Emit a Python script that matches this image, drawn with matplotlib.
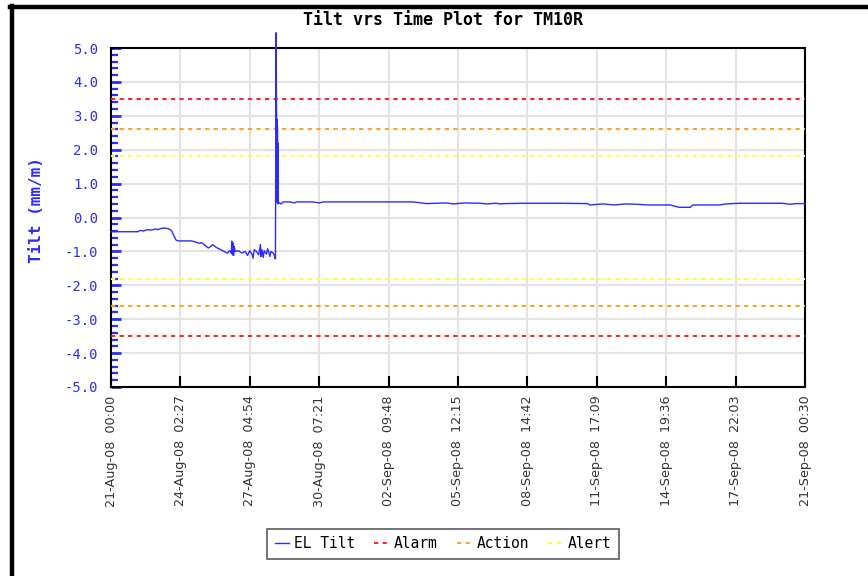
import matplotlib
matplotlib.use("Agg")
import matplotlib.pyplot as plt
from matplotlib.lines import Line2D
from datetime import datetime, timedelta

# ---------------- data ----------------
title = "Tilt vrs Time Plot for TM10R"
y_label = "Tilt (mm/m)"
start_time = datetime(2008, 8, 21, 0, 0)

x_tick_labels = ["21-Aug-08  00:00", "24-Aug-08  02:27", "27-Aug-08  04:54",
                 "30-Aug-08  07:21", "02-Sep-08  09:48", "05-Sep-08  12:15",
                 "08-Sep-08  14:42", "11-Sep-08  17:09", "14-Sep-08  19:36",
                 "17-Sep-08  22:03", "21-Sep-08  00:30"]
y_ticks = [-5.0, -4.0, -3.0, -2.0, -1.0, 0.0, 1.0, 2.0, 3.0, 4.0, 5.0]

# elapsed days since start, and EL tilt readings (mm/m)
tilt_days = [0.00, 1.20, 1.30, 1.45, 1.60, 1.80, 2.00, 2.10, 2.25, 2.40, 2.55, 2.70,
             2.80, 2.90, 3.00, 3.60, 3.75, 3.95, 4.05, 4.20, 4.35, 4.45, 4.55, 4.70,
             4.90, 5.05, 5.20, 5.30, 5.38, 5.40, 5.43, 5.45, 5.48, 5.50, 5.55, 5.70,
             5.85, 6.00, 6.10, 6.20, 6.30, 6.35, 6.40, 6.50, 6.60, 6.68, 6.70, 6.75,
             6.80, 6.85, 6.95, 7.00, 7.05, 7.10, 7.15, 7.25, 7.30,
             7.35, 7.38, 7.40, 7.41, 7.42, 7.43, 7.44, 7.45, 7.46, 7.47, 7.50, 7.60,
             7.70, 8.00,
             8.20, 8.30, 9.00, 9.30, 9.50, 10.00, 12.90, 13.50, 14.10, 14.50, 15.00,
             15.30, 15.80, 16.50, 16.80, 17.20, 17.40, 17.60, 18.40, 19.00, 20.00,
             21.30, 21.40, 21.60, 22.00, 22.50, 23.00, 23.50, 24.00, 25.00, 25.40,
             25.90, 26.00, 27.20, 27.50, 28.10, 29.00, 30.00, 30.35, 30.60, 31.02]
tilt_values = [-0.42, -0.42, -0.38, -0.40, -0.36, -0.37, -0.34, -0.36, -0.32, -0.31, -0.33, -0.38,
               -0.52, -0.66, -0.69, -0.69, -0.72, -0.76, -0.74, -0.82, -0.90, -0.86, -0.80, -0.88,
               -0.95, -1.00, -1.05, -0.98, -1.05, -0.70, -1.10, -0.75, -1.12, -0.85, -1.00, -0.98,
               -1.05, -1.00, -1.12, -0.98, -1.08, -1.20, -0.95, -1.00, -1.10, -0.80, -1.15, -0.95,
               -1.18, -0.98, -1.08, -0.92, -1.02, -1.15, -1.00, -1.05, -1.12,
               -1.22, 5.45, 3.00, 0.50, 2.90, 0.45, 2.70, 0.42, 2.20, 0.40, 0.45, 0.40,
               0.46, 0.46,
               0.43, 0.46, 0.46, 0.43, 0.46, 0.46, 0.46, 0.46, 0.41, 0.42, 0.43,
               0.40, 0.43, 0.42, 0.40, 0.42, 0.40, 0.41, 0.42, 0.42, 0.42,
               0.41, 0.37, 0.38, 0.40, 0.37, 0.40, 0.39, 0.37, 0.37, 0.30,
               0.30, 0.37, 0.37, 0.40, 0.42, 0.42, 0.42, 0.39, 0.41, 0.41]

alarm_level = 3.5
action_level = 2.6
alert_level = 1.8

# ---------------- figure ----------------
W, H = 868, 576
fig = plt.figure(figsize=(W / 100, H / 100), dpi=100)
fig.patch.set_facecolor("white")

ax = fig.add_axes([111 / W, 1 - 387 / H, (805 - 111) / W, (387 - 48) / H])

times = [start_time + timedelta(days=d) for d in tilt_days]
tick_times = [datetime.strptime(s, "%d-%b-%y  %H:%M") for s in x_tick_labels]

blue = "#2b2bff"
ax.plot(times, tilt_values, color=blue, lw=1.0, clip_on=False, zorder=5, label="EL Tilt")

t0, t1 = tick_times[0], tick_times[-1]
dash = (0, (2.2, 2.2))
ax.plot([t0, t1], [alarm_level] * 2, color="#ff2020", lw=1.4, ls=dash, label="Alarm", zorder=3)
ax.plot([t0, t1], [-alarm_level] * 2, color="#ff2020", lw=1.4, ls=dash, zorder=3)
ax.plot([t0, t1], [action_level] * 2, color="#ffa020", lw=1.4, ls=dash, label="Action", zorder=3)
ax.plot([t0, t1], [-action_level] * 2, color="#ffa020", lw=1.4, ls=dash, zorder=3)
ax.plot([t0, t1], [alert_level] * 2, color="#ffff40", lw=1.4, ls=dash, label="Alert", zorder=3)
ax.plot([t0, t1], [-alert_level] * 2, color="#ffff40", lw=1.4, ls=dash, zorder=3)

ax.set_xlim(t0, t1)
ax.set_ylim(-5, 5)

mono = "DejaVu Sans Mono"
ax.set_xticks(tick_times)
ax.set_xticklabels(x_tick_labels, rotation=90, fontsize=9.2, color="#333333",
                   family="DejaVu Sans", va="top", ha="center")
ax.set_yticks(y_ticks)
ax.set_yticklabels([f"{v:.1f}" for v in y_ticks], fontsize=10, color=blue, family=mono)
ax.set_yticks([v / 5 for v in range(-25, 26)], minor=True)

ax.tick_params(axis="y", which="major", direction="in", length=7, width=2, colors=blue, pad=9)
ax.tick_params(axis="y", which="minor", direction="in", length=5, width=1.6, colors=blue)
ax.tick_params(axis="x", which="major", direction="in", length=8, width=1.5, color="black", pad=6)
ax.tick_params(axis="x", which="minor", length=0)
for lab in ax.get_yticklabels():
    lab.set_color(blue)

ax.grid(True, which="major", color="#e3e3e3", lw=1.5, zorder=0)
for sp in ax.spines.values():
    sp.set_color("black")
    sp.set_linewidth(1.5)

ax.set_ylabel(y_label, fontsize=11.5, color=blue, family=mono, fontweight="bold")
ax.yaxis.set_label_coords(-0.096, (387 - 210) / (387 - 48))

fig.text(443 / W, 1 - 20 / H, title, ha="center", va="center", fontsize=12,
         family=mono, fontweight="bold", color="black")

handles, labels = ax.get_legend_handles_labels()
leg = fig.legend(handles, labels, loc="center", bbox_to_anchor=(443 / W, 1 - 544 / H),
                 ncol=4, prop={"family": mono, "size": 10.5}, frameon=True, fancybox=False,
                 edgecolor="#333333", handlelength=1.0, handletextpad=0.35,
                 columnspacing=1.3, borderpad=0.5)
leg.get_frame().set_linewidth(1.2)

# outer border lines (left and top)
fig.add_artist(Line2D([11.5 / W, 11.5 / W], [0, 1 - 6 / H], color="black", lw=3.2,
                      transform=fig.transFigure))
fig.add_artist(Line2D([10 / W, 1], [1 - 7 / H, 1 - 7 / H], color="black", lw=3.2,
                      transform=fig.transFigure))

fig.savefig("out.png", dpi=100)
